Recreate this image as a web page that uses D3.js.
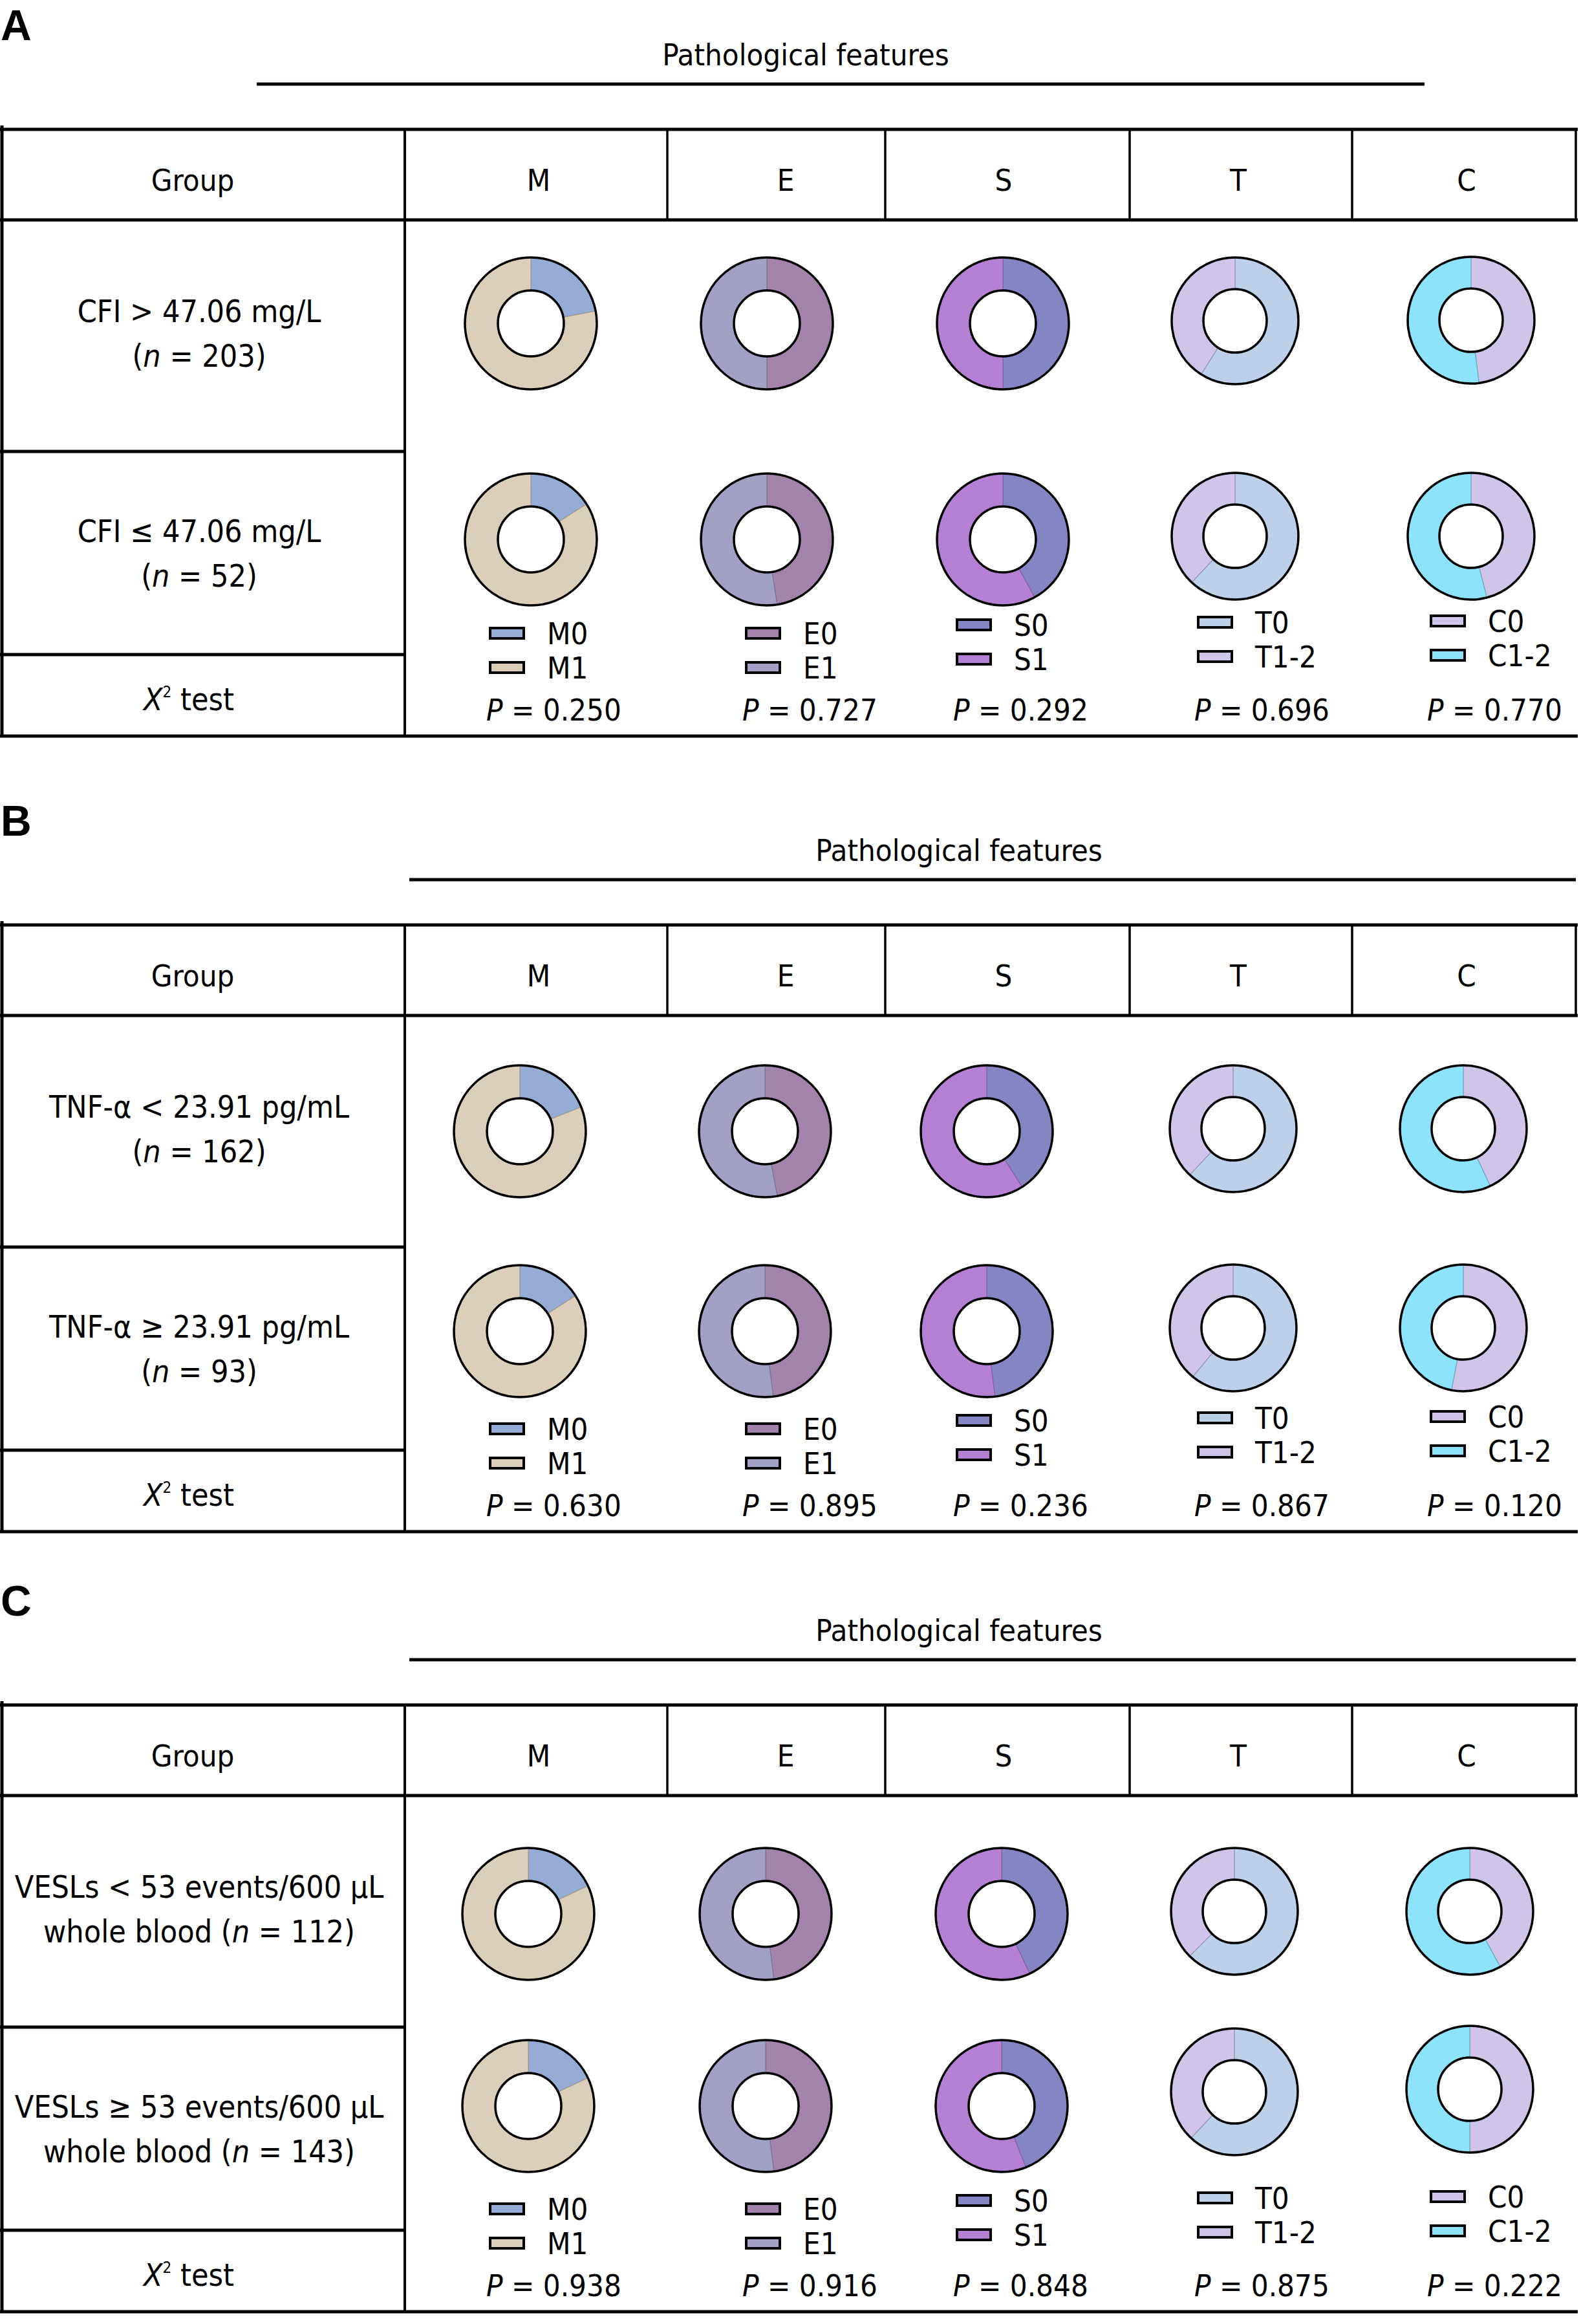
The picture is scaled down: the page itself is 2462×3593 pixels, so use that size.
<!doctype html>
<html>
<head>
<meta charset="utf-8">
<script src="https://d3js.org/d3.v7.min.js"></script>
<style>
  body { margin: 0; background: #fff; }
  svg text { font-family: "DejaVu Sans Condensed", "Liberation Sans", sans-serif; fill: #000; }
</style>
</head>
<body>
<svg id="chart" width="2462" height="3593"></svg>
<script>
// ---- data ----
const features = ['M', 'E', 'S', 'T', 'C'];
const levels = [['M0', 'M1'], ['E0', 'E1'], ['S0', 'S1'], ['T0', 'T1-2'], ['C0', 'C1-2']];
const levelColors = [
  ['#95acd4', '#dbcfb9'],
  ['#a283aa', '#a0a1c4'],
  ['#8685c3', '#b580d3'],
  ['#bdd0ea', '#d0c5e8'],
  ['#d0c5e8', '#8de3fb']
];

// group labels (_x_ = italic)
const groupsA = [['CFI > 47.06 mg/L', '(_n_ = 203)'], ['CFI ≤ 47.06 mg/L', '(_n_ = 52)']];
const groupsB = [['TNF-α < 23.91 pg/mL', '(_n_ = 162)'], ['TNF-α ≥ 23.91 pg/mL', '(_n_ = 93)']];
const groupsC = [['VESLs < 53 events/600 μL', 'whole blood (_n_ = 112)'],
                 ['VESLs ≥ 53 events/600 μL', 'whole blood (_n_ = 143)']];

// share (%) of the first level, one row per group, columns M E S T C
const shareA = [[22, 50, 50, 59, 48], [16, 47.5, 42, 62, 46]];
const shareB = [[19, 47, 41, 62, 43], [16, 48, 48, 61, 53]];
const shareC = [[18, 48, 43, 62.5, 42], [18, 48, 44, 62, 50]];

const pA = ['0.250', '0.727', '0.292', '0.696', '0.770'];
const pB = ['0.630', '0.895', '0.236', '0.867', '0.120'];
const pC = ['0.938', '0.916', '0.848', '0.875', '0.222'];

// ---- layout ----
const colEdges = [3, 626, 1032, 1369, 1747, 2091, 2437];
const headX = [833, 1215, 1552, 1915, 2268];
const radius = [102, 102, 102, 98, 98];
const legX = [758, 1154, 1480, 1853, 2213];
const legY = [779, 779, 766, 762, 760];

const panels = [
  { label: 'A', top: 200, titleX: 1246, rule: [397, 2203], groups: groupsA, share: shareA, p: pA,
    donutX: [821, 1186, 1551, 1910, 2275], donutY: [300, 634], donutDy: [[0, 0, 0, -4, -5], [0, 0, 0, -5, -5]] },
  { label: 'B', top: 1430, titleX: 1483, rule: [633, 2437], groups: groupsB, share: shareB, p: pB,
    donutX: [804, 1183, 1526, 1907, 2263], donutY: [319, 628], donutDy: [[0, 0, 0, -4, -4], [0, 0, 0, -5, -5]] },
  { label: 'C', top: 2636, titleX: 1483, rule: [633, 2437], groups: groupsC, share: shareC, p: pC,
    donutX: [817, 1184, 1549, 1909, 2273], donutY: [323, 620], donutDy: [[0, 0, 0, -4, -4], [0, 0, 0, -22, -26]] }
];

const svg = d3.select('#chart');
svg.append('rect').attr('width', 2462).attr('height', 3593).attr('fill', '#fff');

function rich(sel, str) {
  str.split(/(_[^_]+_)/).filter(s => s).forEach(s => {
    const it = s.startsWith('_');
    sel.append('tspan').attr('font-style', it ? 'italic' : null).text(it ? s.slice(1, -1) : s);
  });
}

function line(g, x1, y1, x2, y2, w) {
  g.append('line').attr('x1', x1).attr('y1', y1).attr('x2', x2).attr('y2', y2)
    .attr('stroke', '#000').attr('stroke-width', w);
}

const pie = d3.pie().sort(null).value(d => d);

panels.forEach(pn => {
  const g = svg.append('g').attr('transform', `translate(0,${pn.top})`);

  // panel letter, title and rule
  g.append('text').attr('x', 1).attr('y', -138)
    .style('font-family', '"Liberation Sans", Arial, sans-serif')
    .attr('font-weight', 'bold').attr('font-size', 66).text(pn.label);
  g.append('text').attr('x', pn.titleX).attr('y', -99).attr('text-anchor', 'middle')
    .attr('font-size', 47).text('Pathological features');
  line(g, pn.rule[0], -70, pn.rule[1], -70, 5);

  // table frame
  const hb = 140, r1 = 498, r2 = 812, bot = 938;
  line(g, 0, 0, 2440, 0, 5);
  line(g, 0, hb, 2440, hb, 5);
  line(g, 0, bot, 2440, bot, 5);
  line(g, 3, -6, 3, bot + 2, 5);
  line(g, colEdges[1], 0, colEdges[1], bot, 4);
  colEdges.slice(2).forEach(x => line(g, x, 0, x, hb, 3.5));
  line(g, 0, r1, colEdges[1], r1, 5);
  line(g, 0, r2, colEdges[1], r2, 5);

  // header
  g.append('text').attr('x', 298).attr('y', 95).attr('text-anchor', 'middle')
    .attr('font-size', 47).text('Group');
  features.forEach((f, i) => {
    g.append('text').attr('x', headX[i]).attr('y', 95)
      .attr('text-anchor', 'middle').attr('font-size', 47).text(f);
  });

  // group labels
  const rowBase = [298, 638];
  pn.groups.forEach((lines, ri) => {
    lines.forEach((s, li) => {
      const t = g.append('text').attr('x', 308).attr('y', rowBase[ri] + li * 69)
        .attr('text-anchor', 'middle').attr('font-size', 48);
      rich(t, s);
    });
  });
  const chi = g.append('text').attr('x', 292).attr('y', 898).attr('text-anchor', 'middle')
    .attr('font-size', 48);
  chi.append('tspan').attr('font-style', 'italic').text('X');
  chi.append('tspan').attr('font-size', 24).attr('dy', -20).text('2');
  chi.append('tspan').attr('dy', 20).text(' test');

  // donuts
  pn.share.forEach((row, ri) => {
    row.forEach((v, ci) => {
      const R = radius[ci];
      const cx = pn.donutX[ci], cy = pn.donutY[ri] + pn.donutDy[ri][ci];
      const arc = d3.arc().innerRadius(R * 0.5).outerRadius(R);
      const dg = g.append('g').attr('transform', `translate(${cx},${cy})`);
      dg.selectAll('path').data(pie([v, 100 - v])).join('path')
        .attr('d', arc)
        .attr('fill', (d, k) => levelColors[ci][k])
        .attr('stroke', (d, k) => d3.color(levelColors[ci][k]).darker(0.8))
        .attr('stroke-width', 1.2);
      dg.append('circle').attr('r', R).attr('fill', 'none').attr('stroke', '#000').attr('stroke-width', 3.5);
      dg.append('circle').attr('r', R * 0.5).attr('fill', 'none').attr('stroke', '#000').attr('stroke-width', 3.5);
    });
  });

  // legends and P values
  features.forEach((f, ci) => {
    levels[ci].forEach((lv, k) => {
      const y = legY[ci] + k * 53;
      g.append('rect').attr('x', legX[ci]).attr('y', y - 8).attr('width', 52).attr('height', 16)
        .attr('fill', levelColors[ci][k]).attr('stroke', '#000').attr('stroke-width', 4);
      g.append('text').attr('x', legX[ci] + 88).attr('y', y + 17).attr('font-size', 47).text(lv);
    });
    const pt = g.append('text').attr('x', legX[ci] - 6).attr('y', 914).attr('font-size', 47);
    rich(pt, '_P_ = ' + pn.p[ci]);
  });
});
</script>
</body>
</html>
